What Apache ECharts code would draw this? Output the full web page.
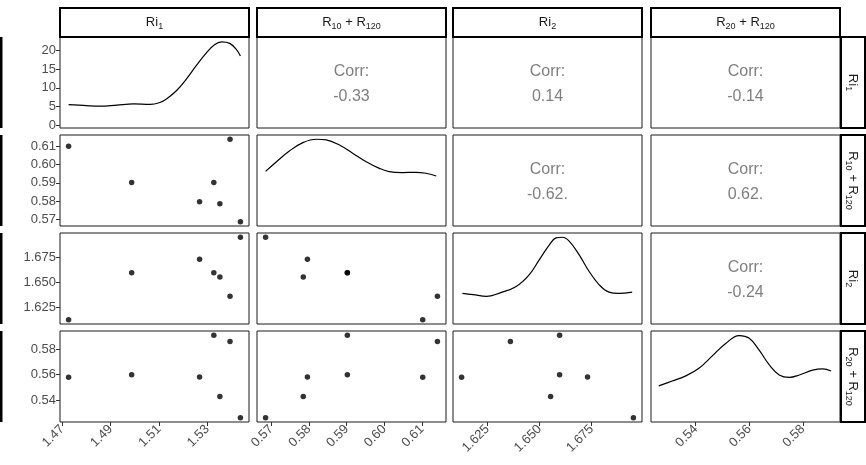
<!DOCTYPE html>
<html>
<head>
<meta charset="utf-8">
<script src="https://cdn.jsdelivr.net/npm/echarts@6/dist/echarts.min.js"></script>
<style>
  html, body { margin: 0; padding: 0; background: #fff; }
  #pairs { width: 866px; height: 465px; }
</style>
</head>
<body>
<div id="pairs"></div>
<script>
var ri1 = [1.4726, 1.4987, 1.5268, 1.5327, 1.5352, 1.5394, 1.5437];
var r10 = [0.6102, 0.5902, 0.5796, 0.5902, 0.5785, 0.6141, 0.5685];
var ri2 = [1.6126, 1.6596, 1.6730, 1.6596, 1.6553, 1.6360, 1.6950];
var r20 = [0.5581, 0.5600, 0.5582, 0.5907, 0.5431, 0.5857, 0.5265];

// density curves on the diagonal
var densRi1X = [1.4726, 1.4788, 1.4857, 1.4926, 1.4994, 1.5063, 1.5104, 1.5131, 1.5173, 1.5214, 1.5255, 1.5297, 1.5331, 1.5359, 1.5393, 1.5420, 1.5437];
var densRi1Y = [5.5, 5.3, 5.1, 5.4, 5.7, 5.6, 6.1, 7.0, 9.3, 12.4, 16.0, 19.4, 21.6, 22.3, 21.9, 20.3, 18.5];
var densR10X = [0.5685, 0.5714, 0.5749, 0.5784, 0.5820, 0.5846, 0.5881, 0.5916, 0.5952, 0.5987, 0.6013, 0.6048, 0.6084, 0.6110, 0.6138];
var densR10Y = [18.0, 21.2, 24.8, 27.5, 28.6, 28.4, 26.7, 24.0, 21.2, 19.0, 17.9, 17.6, 17.7, 17.4, 16.5];
var densRi2X = [1.6130, 1.6181, 1.6245, 1.6308, 1.6388, 1.6451, 1.6499, 1.6547, 1.6579, 1.6610, 1.6642, 1.6690, 1.6737, 1.6785, 1.6833, 1.6880, 1.6944];
var densRi2Y = [10.1, 9.7, 9.1, 10.2, 12.4, 16.3, 21.2, 26.1, 28.4, 28.6, 27.3, 22.8, 17.4, 13.0, 10.5, 10.1, 10.5];
var densR20X = [0.5262, 0.5312, 0.5363, 0.5412, 0.5462, 0.5512, 0.5562, 0.5600, 0.5637, 0.5675, 0.5712, 0.5750, 0.5787, 0.5837, 0.5875, 0.5906];
var densR20Y = [11.9, 13.5, 15.2, 17.7, 21.8, 25.9, 28.5, 27.6, 23.7, 18.8, 15.5, 14.7, 15.5, 17.1, 17.5, 16.8];

// correlations, upper triangle, row by row
var corrLabels = ['-0.33', '0.14', '-0.14', '-0.62.', '0.62.', '-0.24'];

// tick labels
var ticksRi1 = ['1.47', '1.49', '1.51', '1.53'];
var ticksR10 = ['0.57', '0.58', '0.59', '0.60', '0.61'];
var ticksRi2 = ['1.625', '1.650', '1.675'];
var ticksR20 = ['0.54', '0.56', '0.58'];
var ticksDens = ['0', '5', '10', '15', '20'];

// strip labels (rich text)
var varLabels = ['{b|Ri}{s|1}', '{b|R}{s|10}{b| + R}{s|120}', '{b|Ri}{s|2}', '{b|R}{s|20}{b| + R}{s|120}'];

var vars = [ri1, r10, ri2, r20];
var varTicks = [ticksRi1, ticksR10, ticksRi2, ticksR20];
var dens = [[densRi1X, densRi1Y], [densR10X, densR10Y], [densRi2X, densRi2Y], [densR20X, densR20Y]];

var FONT = 'Liberation Sans, Arial, Helvetica, sans-serif';
var colLeft = [60, 257, 453, 651];
var colW = 189;
var rowTop = [37, 135, 233, 331];
var rowH = 91;

function range (arr) {
  var lo = Math.min.apply(null, arr), hi = Math.max.apply(null, arr);
  var pad = (hi - lo) * 0.05;
  return [lo - pad, hi + pad];
}
function decimals (s) {
  var p = s.indexOf('.');
  return p < 0 ? 0 : s.length - p - 1;
}

var chart = echarts.init(document.getElementById('pairs'));
var grids = [], xAxes = [], yAxes = [], series = [], graphics = [];
var ci = 0;

for (var i = 0; i < 4; i++) {
  for (var j = 0; j < 4; j++) {
    var k = i * 4 + j;
    grids.push({
      left: colLeft[j], top: rowTop[i], width: colW, height: rowH,
      show: true, borderColor: '#1a1a1a', borderWidth: 1, backgroundColor: '#fff'
    });
    var xr = range(vars[j]);
    var xt = varTicks[j];
    (function (xt) {
      xAxes.push({
        type: 'value', gridIndex: k, min: xr[0], max: xr[1],
        axisLine: { show: false }, splitLine: { show: false },
        axisTick: { show: i === 3, length: 4, lineStyle: { color: '#333' },
          customValues: xt.map(Number) },
        axisLabel: { show: i === 3, rotate: 45, margin: 5, color: '#4d4d4d',
          fontSize: 13, fontFamily: FONT, customValues: xt.map(Number),
          formatter: function (v) { return v.toFixed(decimals(xt[0])); } }
      });
    })(xt);

    var yr, yt;
    if (i === 0 && j === 0) { yr = [-0.73, 23.6]; yt = ticksDens; }
    else if (i === j) { yr = [0, 30]; yt = []; }
    else { yr = range(vars[i]); yt = varTicks[i]; }
    (function (yt) {
      yAxes.push({
        type: 'value', gridIndex: k, min: yr[0], max: yr[1],
        axisLine: { show: false }, splitLine: { show: false },
        axisTick: { show: j === 0, length: 4, lineStyle: { color: '#333' },
          customValues: yt.map(Number) },
        axisLabel: { show: j === 0, margin: 4, color: '#4d4d4d',
          fontSize: 13, fontFamily: FONT, customValues: yt.map(Number),
          formatter: function (v) { return yt.length ? v.toFixed(decimals(yt[yt.length - 1])) : ''; } }
      });
    })(yt);

    if (i > j) {
      var pts = [];
      for (var n = 0; n < vars[j].length; n++) pts.push([vars[j][n], vars[i][n]]);
      series.push({
        type: 'scatter', xAxisIndex: k, yAxisIndex: k, data: pts,
        symbolSize: 5.5, itemStyle: { color: '#000' }, silent: true
      });
    } else if (i === j) {
      var d = dens[i], line = [];
      for (var m = 0; m < d[0].length; m++) line.push([d[0][m], d[1][m]]);
      series.push({
        type: 'line', xAxisIndex: k, yAxisIndex: k, data: line,
        smooth: 0.4, showSymbol: false, lineStyle: { color: '#000', width: 1.2 }, silent: true
      });
    } else {
      var cx = colLeft[j] + colW / 2, cy = rowTop[i] + rowH / 2;
      graphics.push({ type: 'text', x: cx, y: cy - 11, silent: true,
        style: { text: 'Corr:', font: '16px ' + FONT, fill: '#7f7f7f', align: 'center', verticalAlign: 'middle' } });
      graphics.push({ type: 'text', x: cx, y: cy + 14, silent: true,
        style: { text: corrLabels[ci++], font: '16px ' + FONT, fill: '#7f7f7f', align: 'center', verticalAlign: 'middle' } });
    }
  }
}

var richStyle = {
  b: { fontSize: 13, fontFamily: FONT, fill: '#1a1a1a', lineHeight: 18, verticalAlign: 'middle' },
  s: { fontSize: 9, fontFamily: FONT, fill: '#1a1a1a', lineHeight: 10, verticalAlign: 'bottom' }
};

// strips: top and right
for (var c = 0; c < 4; c++) {
  graphics.push({ type: 'rect', shape: { x: colLeft[c], y: 8, width: colW, height: 29 },
    style: { fill: '#fff', stroke: '#000', lineWidth: 2 }, silent: true });
  graphics.push({ type: 'text', x: colLeft[c] + colW / 2, y: 22.5, silent: true,
    style: { text: varLabels[c], rich: richStyle, align: 'center', verticalAlign: 'middle' } });
}
for (var r = 0; r < 4; r++) {
  graphics.push({ type: 'rect', shape: { x: 841, y: rowTop[r], width: 24, height: rowH },
    style: { fill: '#fff', stroke: '#000', lineWidth: 2 }, silent: true });
  graphics.push({ type: 'text', x: 853, y: rowTop[r] + rowH / 2, rotation: -Math.PI / 2, silent: true,
    style: { text: varLabels[r], rich: richStyle, align: 'center', verticalAlign: 'middle' } });
  // cut-off left strips
  graphics.push({ type: 'rect', shape: { x: 0, y: rowTop[r], width: 2.5, height: rowH },
    style: { fill: '#000' }, silent: true });
}

chart.setOption({
  animation: false,
  grid: grids,
  xAxis: xAxes,
  yAxis: yAxes,
  series: series,
  graphic: graphics
});
window.onresize = function () { chart.resize(); };
</script>
</body>
</html>
